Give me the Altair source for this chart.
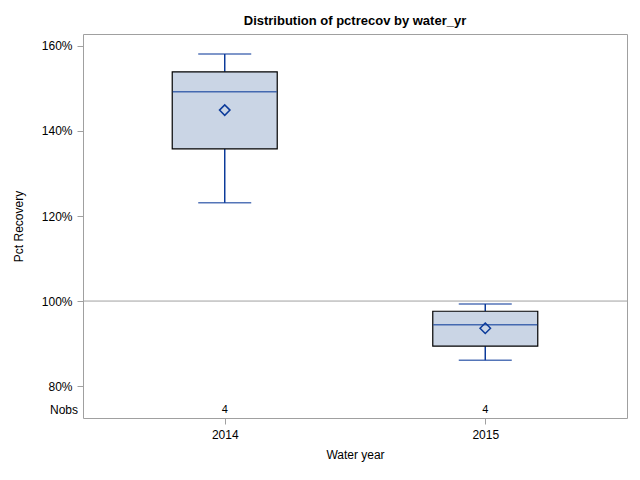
import altair as alt
import pandas as pd

years = ["2014", "2015"]
whisk_lo = [123.1, 86.1]
q1 = [135.8, 89.4]
median = [149.2, 94.4]
q3 = [153.9, 97.6]
whisk_hi = [158.1, 99.3]
mean = [144.9, 93.6]
nobs = [4, 4]
y_ticks = [80, 100, 120, 140, 160]
ref_value = [100]

df = pd.DataFrame({
    "year": years, "lo": whisk_lo, "q1": q1, "med": median,
    "q3": q3, "hi": whisk_hi, "mean": mean, "nobs": nobs,
})

FONT = "Liberation Sans"
NAVY = "#0B3A9A"
FILL = "#CAD5E5"

xenc = alt.X("year:O", title="Water year",
             scale=alt.Scale(type="point", padding=0.544),
             axis=alt.Axis(labelAngle=0, domain=False, tickColor="#a0a0a0",
                           tickSize=6, labelPadding=5, titlePadding=9))
yscale = alt.Scale(domain=[72.5, 162.8], nice=False, zero=False)
yenc = alt.Y("q1:Q", title="Pct Recovery", scale=yscale,
             axis=alt.Axis(values=y_ticks, labelExpr="datum.value + '%'",
                           domain=False, grid=False, tickColor="#a0a0a0",
                           tickSize=6, labelPadding=5, titlePadding=16))

base = alt.Chart(df)

ref = alt.Chart(pd.DataFrame({"v": ref_value})).mark_rule(color="#a0a0a0", strokeWidth=1).encode(
    y=alt.Y("v:Q", scale=yscale))

whisk_low = base.mark_rule(color=NAVY, strokeWidth=1.5).encode(
    x=xenc, y=alt.Y("lo:Q", scale=yscale), y2="q1:Q")
whisk_high = base.mark_rule(color=NAVY, strokeWidth=1.5).encode(
    x=xenc, y=alt.Y("q3:Q", scale=yscale), y2="hi:Q")
cap_lo = base.mark_tick(color=NAVY, size=53, thickness=1.5, orient="horizontal").encode(
    x=xenc, y=alt.Y("lo:Q", scale=yscale))
cap_hi = base.mark_tick(color=NAVY, size=53, thickness=1.5, orient="horizontal").encode(
    x=xenc, y=alt.Y("hi:Q", scale=yscale))
box = base.mark_bar(size=105, fill=FILL, stroke="black", strokeWidth=1.2).encode(
    x=xenc, y=yenc, y2="q3:Q")
med = base.mark_tick(color=NAVY, size=104, thickness=1.5, orient="horizontal").encode(
    x=xenc, y=alt.Y("med:Q", scale=yscale))
mn = base.mark_point(shape="diamond", filled=False, color=NAVY, size=110, strokeWidth=1.5,
                     opacity=1).encode(
    x=xenc, y=alt.Y("mean:Q", scale=yscale))
nob = base.mark_text(font=FONT, fontSize=11, color="black").encode(
    x=xenc, y=alt.value(376), text="nobs:N")
nob_label = alt.Chart(pd.DataFrame({"t": ["Nobs"]})).mark_text(
    font=FONT, fontSize=12, color="black", align="right").encode(
    x=alt.value(-5), y=alt.value(376), text="t:N")

chart = alt.layer(ref, whisk_low, whisk_high, cap_lo, cap_hi, box, med, mn, nob, nob_label).properties(
    width=544, height=384,
    title=alt.TitleParams("Distribution of pctrecov by water_yr", font=FONT, fontSize=13,
                          fontWeight="bold", color="black", offset=6),
    autosize=alt.AutoSizeParams(type="none"),
    padding={"left": 75, "top": 26, "right": 5, "bottom": 50},
    background="white",
).configure_view(stroke="#a0a0a0", strokeWidth=1).configure_axis(
    labelFont=FONT, titleFont=FONT, labelFontSize=12, titleFontSize=12,
    labelColor="black", titleColor="black", titleFontWeight="normal",
)

chart.save("out.html", embed_options={"renderer": "svg", "actions": False})
